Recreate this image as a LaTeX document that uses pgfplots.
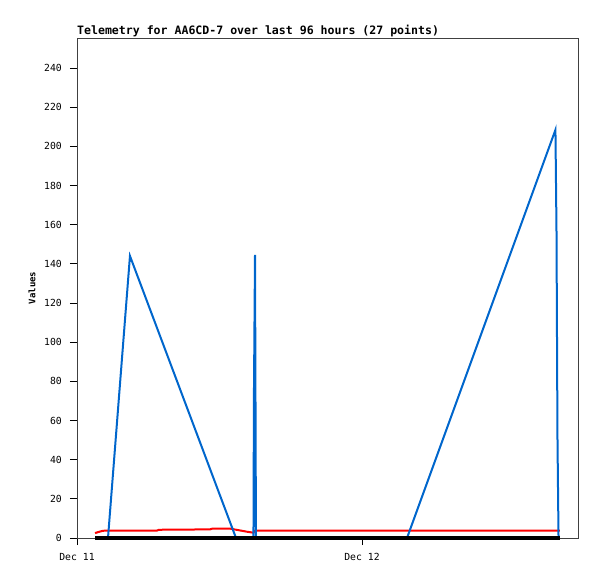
\documentclass[border=0pt]{standalone}
\usepackage{fontspec}
\setmainfont{DejaVu Sans Mono}
\usepackage{pgfplots}
\pgfplotsset{compat=1.18}
\definecolor{lineblue}{RGB}{0,102,204}
\begin{document}
\begin{tikzpicture}
% page is 597x579 bp; the axis box spans (0,0)--(501bp,500bp)
\useasboundingbox (-77bp,-41bp) rectangle (520bp,538bp);
\begin{axis}[
    at={(0,0)}, anchor=south west,
    scale only axis,
    width=501bp, height=500bp,
    xmin=0, xmax=42.19,
    ymin=0, ymax=255.3,
    axis line style={black!75, line width=0.8pt},
    tick style={black, line width=0.8pt},
    tick align=outside,
    major tick length=7bp,
    xtick={0,24},
    xticklabels={Dec 11, Dec 12},
    ytick={0,20,...,240},
    xtick pos=bottom, ytick pos=left,
    /pgf/number format/assume math mode=true,
    tick label style={font=\fontsize{9.8}{11}\selectfont},
    yticklabel style={inner sep=0pt, xshift=-8bp},
    xticklabel style={inner sep=0pt, yshift=-8bp},
    title={Telemetry for AA6CD-7 over last 96 hours (27 points)},
    title style={at={(0,1)}, anchor=base west, inner sep=0pt, yshift=-2bp,
        font=\fontsize{11.6}{13}\selectfont\bfseries},
    ylabel={Values},
    ylabel style={at={(axis description cs:0,0.5)}, anchor=center, yshift=45bp,
        inner sep=0pt, font=\fontsize{9}{11}\selectfont\bfseries},
    clip=false,
]
% red series
\addplot[red, line width=2bp] coordinates {
    (1.52,2.5) (1.77,3.0) (2.19,3.7) (6.74,3.8) (6.9,4.2) (11.2,4.4)
    (11.4,4.8) (12.88,4.8) (14.32,3.2) (14.86,2.7) (15.0,3.8) (40.67,3.8)
};
% blue series
\addplot[lineblue, line width=2bp] coordinates {
    (2.61,0) (4.46,144) (13.39,0) (14.86,0) (14.9,72.6) (14.99,144.5)
    (15.07,0) (27.79,0) (40.29,208.4) (40.38,156) (40.46,52) (40.55,0)
};
% black series at zero
\addplot[black, line width=3.2bp] coordinates {
    (1.52,0) (40.67,0)
};
\end{axis}
\end{tikzpicture}
\end{document}
